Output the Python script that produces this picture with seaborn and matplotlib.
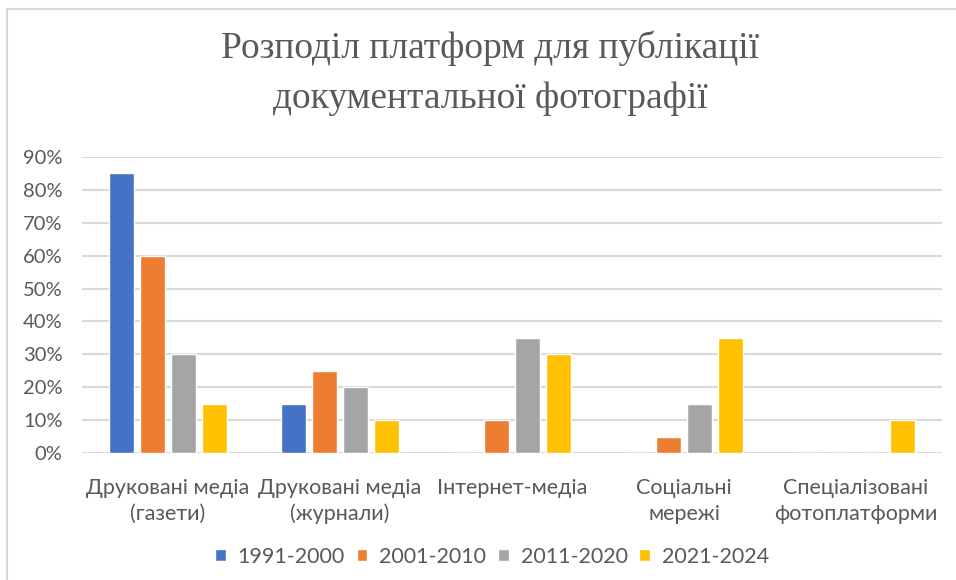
import pandas as pd
import numpy as np
import seaborn as sns
import matplotlib.pyplot as plt
from matplotlib.patches import Rectangle
from matplotlib.ticker import PercentFormatter

# Data

categories = ["Друковані медіа\n(газети)", "Друковані медіа\n(журнали)", "Інтернет-медіа",
              "Соціальні\nмережі", "Спеціалізовані\nфотоплатформи"]
periods = ["1991-2000", "2001-2010", "2011-2020", "2021-2024"]
share_1991_2000 = [0.85, 0.15, 0.0, 0.0, 0.0]
share_2001_2010 = [0.60, 0.25, 0.10, 0.05, 0.0]
share_2011_2020 = [0.30, 0.20, 0.35, 0.15, 0.0]
share_2021_2024 = [0.15, 0.10, 0.30, 0.35, 0.10]
colors = ["#4472C4", "#ED7D31", "#A5A5A5", "#FFC000"]

series = [share_1991_2000, share_2001_2010, share_2011_2020, share_2021_2024]
df = pd.DataFrame({
    "platform": np.tile(categories, len(periods)),
    "period": np.repeat(periods, len(categories)),
    "share": np.concatenate(series),
})

# Plot

sns.set_style("white")
plt.rcParams["font.family"] = ["Lato", "DejaVu Sans"]
text_color = "#595959"

fig = plt.figure(figsize=(9.56, 5.8), dpi=100)
ax = fig.add_axes([82 / 956, 1 - 453 / 580, (942 - 82) / 956, (453 - 157) / 580])

sns.barplot(data=df, x="platform", y="share", hue="period", order=categories,
            hue_order=periods, palette=colors, width=0.72, gap=0.19,
            saturation=1, ax=ax, legend=True)

ax.set_ylim(0, 0.9)
ax.set_yticks(np.arange(0, 0.91, 0.1))
ax.yaxis.set_major_formatter(PercentFormatter(1.0, decimals=0))
ax.set_xlim(-0.5, len(categories) - 0.5)
ax.grid(axis="y", color="#D9D9D9", linewidth=1.5)
ax.set_axisbelow(True)
for s in ax.spines.values():
    s.set_visible(False)
ax.set_xlabel("")
ax.set_ylabel("")
ax.tick_params(axis="y", length=0, pad=14, labelsize=14.5, labelcolor=text_color)
ax.tick_params(axis="x", length=0, pad=18, labelsize=15.5, labelcolor=text_color)
for lbl in ax.get_xticklabels():
    lbl.set_linespacing(1.35)

handles, labels = ax.get_legend_handles_labels()
ax.get_legend().remove()
fig.legend(handles, labels, loc="center", bbox_to_anchor=(492 / 956, 1 - 557 / 580),
           ncol=4, frameon=False, fontsize=15.5, labelcolor=text_color,
           handlelength=0.5, handleheight=0.5, handletextpad=0.55, columnspacing=0.55)

fig.suptitle("Розподіл платформ для публікації\nдокументальної фотографії",
             x=0.513, y=1 - 31 / 580, va="top", fontsize=27, color=text_color,
             family="Liberation Serif", linespacing=1.55)

# chart frame
fig.patches.append(Rectangle((7 / 956, -0.05), 1.1, 1 - 9 / 580 + 0.05,
                             transform=fig.transFigure, fill=False,
                             edgecolor="#D9D9D9", linewidth=1.5))

fig.savefig("out.png", dpi=100)
